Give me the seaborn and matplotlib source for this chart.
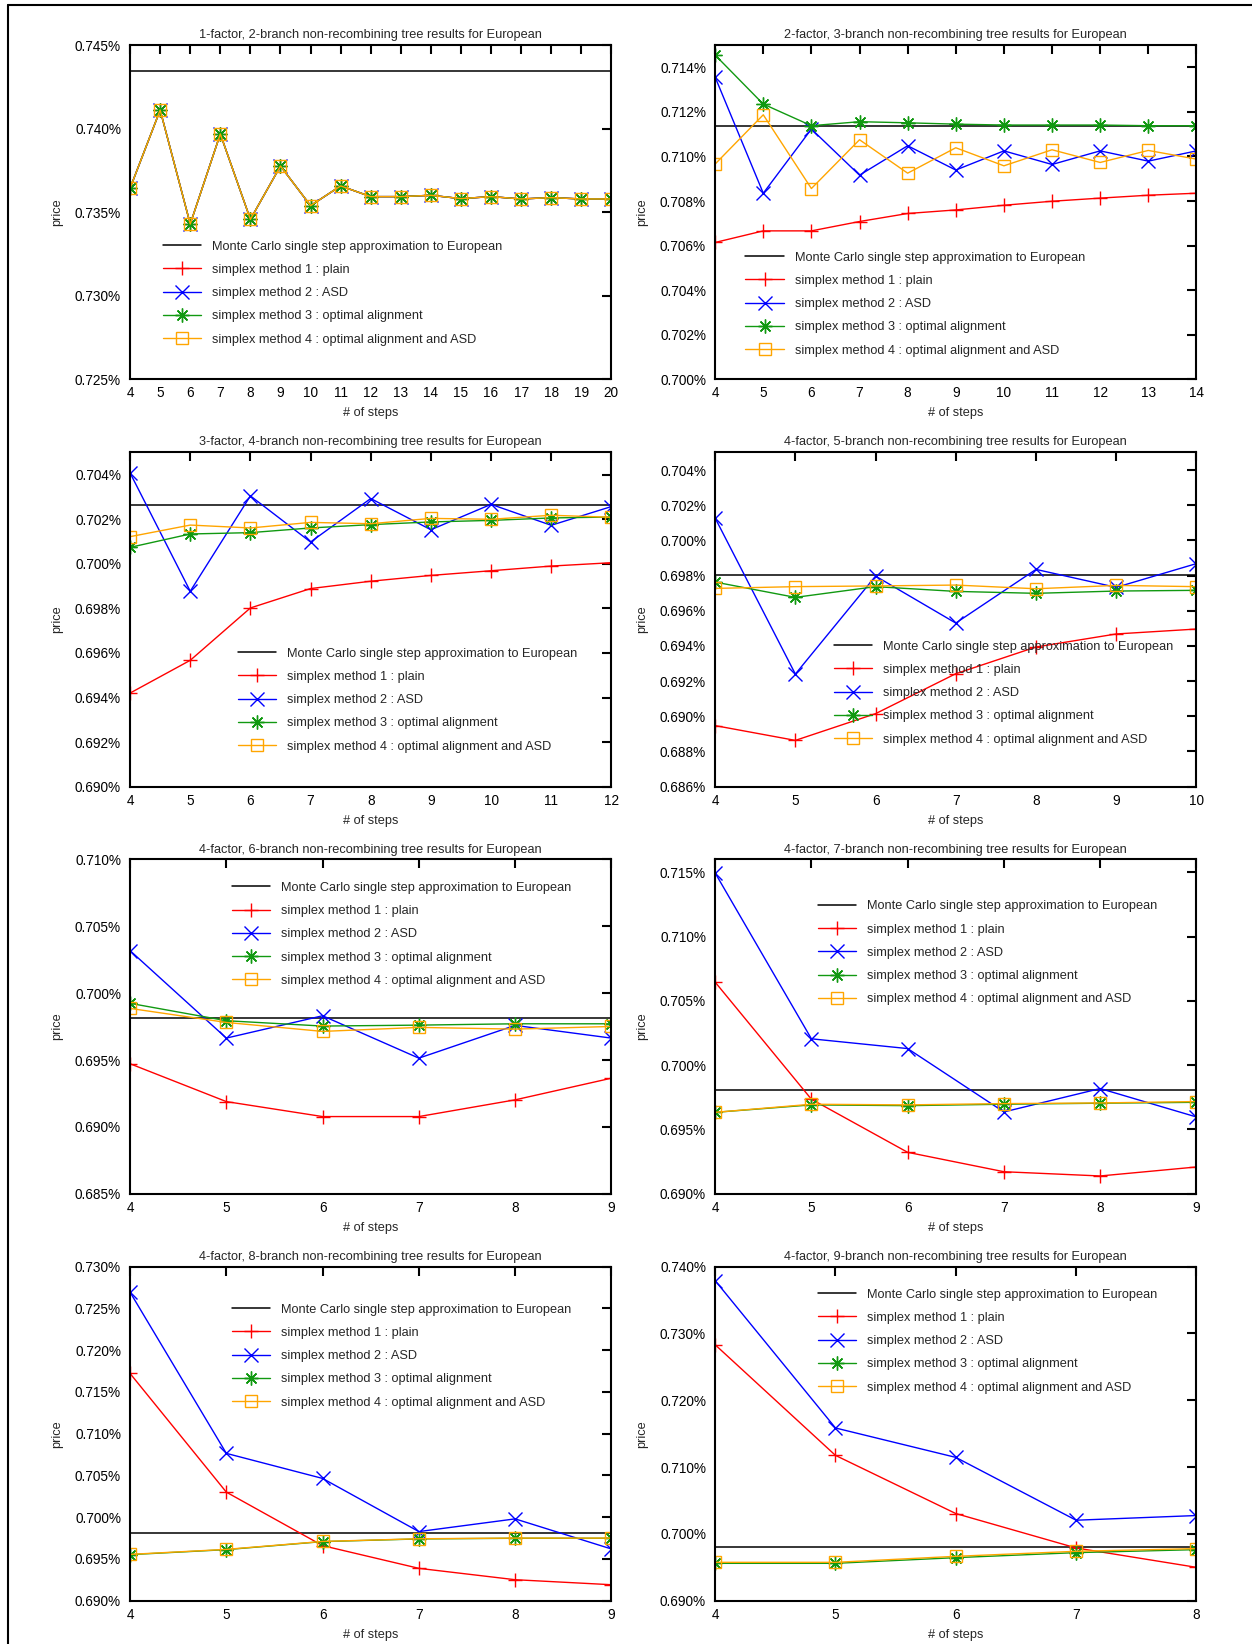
import matplotlib
matplotlib.use("Agg")
import matplotlib.pyplot as plt
from matplotlib.lines import Line2D
import seaborn as sns

# values (price in %)

# 1-factor, 2-branch: all four simplex methods give the same numbers
steps_1 = [4, 5, 6, 7, 8, 9, 10, 11, 12, 13, 14, 15, 16, 17, 18, 19, 20]
mc_1 = 0.74346
opt_1 = [0.73643, 0.74111, 0.73429, 0.73968, 0.73457, 0.73776, 0.73539, 0.73657,
         0.73593, 0.73593, 0.73601, 0.73581, 0.73593, 0.73579, 0.73587, 0.73579, 0.73579]
plain_1 = list(opt_1)
asd_1 = list(opt_1)
optasd_1 = list(opt_1)
yticks_1 = [0.725, 0.730, 0.735, 0.740, 0.745]
ylim_1 = (0.725, 0.745)

# 2-factor, 3-branch
steps_2 = [4, 5, 6, 7, 8, 9, 10, 11, 12, 13, 14]
mc_2 = 0.71138
plain_2 = [0.70614, 0.70666, 0.70666, 0.70708, 0.70744, 0.70760, 0.70781, 0.70799, 0.70813, 0.70826, 0.70835]
asd_2 = [0.71356, 0.70835, 0.71123, 0.70916, 0.71048, 0.70939, 0.71025, 0.70964, 0.71025, 0.70979, 0.71025]
opt_2 = [0.71455, 0.71235, 0.71138, 0.71156, 0.71151, 0.71145, 0.71141, 0.71141, 0.71141, 0.71138, 0.71138]
optasd_2 = [0.70966, 0.71187, 0.70856, 0.71075, 0.70925, 0.71039, 0.70958, 0.71030, 0.70973, 0.71027, 0.70988]
yticks_2 = [0.700, 0.702, 0.704, 0.706, 0.708, 0.710, 0.712, 0.714]
ylim_2 = (0.700, 0.715)

# 3-factor, 4-branch
steps_3 = [4, 5, 6, 7, 8, 9, 10, 11, 12]
mc_3 = 0.70264
plain_3 = [0.69420, 0.69567, 0.69802, 0.69889, 0.69922, 0.69948, 0.69969, 0.69990, 0.70005]
asd_3 = [0.70408, 0.69877, 0.70305, 0.70098, 0.70293, 0.70153, 0.70267, 0.70173, 0.70257]
opt_3 = [0.70074, 0.70134, 0.70140, 0.70161, 0.70176, 0.70188, 0.70195, 0.70206, 0.70210]
optasd_3 = [0.70122, 0.70174, 0.70161, 0.70186, 0.70180, 0.70204, 0.70200, 0.70218, 0.70209]
yticks_3 = [0.690, 0.692, 0.694, 0.696, 0.698, 0.700, 0.702, 0.704]
ylim_3 = (0.690, 0.705)

# 4-factor, 5-branch
steps_4 = [4, 5, 6, 7, 8, 9, 10]
mc_4 = 0.69801
plain_4 = [0.68947, 0.68863, 0.69015, 0.69242, 0.69394, 0.69468, 0.69496]
asd_4 = [0.70127, 0.69240, 0.69797, 0.69530, 0.69835, 0.69733, 0.69868]
opt_4 = [0.69763, 0.69676, 0.69737, 0.69710, 0.69699, 0.69712, 0.69716]
optasd_4 = [0.69727, 0.69737, 0.69741, 0.69746, 0.69725, 0.69744, 0.69737]
yticks_4 = [0.686, 0.688, 0.690, 0.692, 0.694, 0.696, 0.698, 0.700, 0.702, 0.704]
ylim_4 = (0.686, 0.705)

# 4-factor, 6-branch
steps_5 = [4, 5, 6, 7, 8, 9]
mc_5 = 0.69814
plain_5 = [0.69472, 0.69189, 0.69077, 0.69077, 0.69202, 0.69364]
asd_5 = [0.70318, 0.69664, 0.69831, 0.69514, 0.69759, 0.69664]
opt_5 = [0.69924, 0.69794, 0.69754, 0.69761, 0.69771, 0.69771]
optasd_5 = [0.69886, 0.69781, 0.69714, 0.69744, 0.69731, 0.69751]
yticks_5 = [0.685, 0.690, 0.695, 0.700, 0.705, 0.710]
ylim_5 = (0.685, 0.710)

# 4-factor, 7-branch
steps_6 = [4, 5, 6, 7, 8, 9]
mc_6 = 0.69810
plain_6 = [0.70646, 0.69735, 0.69322, 0.69171, 0.69138, 0.69208]
asd_6 = [0.71495, 0.70205, 0.70129, 0.69636, 0.69818, 0.69597]
opt_6 = [0.69633, 0.69691, 0.69685, 0.69696, 0.69704, 0.69711]
optasd_6 = [0.69633, 0.69696, 0.69691, 0.69701, 0.69706, 0.69717]
yticks_6 = [0.690, 0.695, 0.700, 0.705, 0.710, 0.715]
ylim_6 = (0.690, 0.716)

# 4-factor, 8-branch
steps_7 = [4, 5, 6, 7, 8, 9]
mc_7 = 0.69812
plain_7 = [0.71720, 0.70300, 0.69660, 0.69388, 0.69252, 0.69192]
asd_7 = [0.72692, 0.70764, 0.70464, 0.69828, 0.69980, 0.69620]
opt_7 = [0.69552, 0.69612, 0.69708, 0.69740, 0.69748, 0.69748]
optasd_7 = [0.69555, 0.69615, 0.69710, 0.69742, 0.69750, 0.69750]
yticks_7 = [0.690, 0.695, 0.700, 0.705, 0.710, 0.715, 0.720, 0.725, 0.730]
ylim_7 = (0.690, 0.730)

# 4-factor, 9-branch
steps_8 = [4, 5, 6, 7, 8]
mc_8 = 0.69810
plain_8 = [0.72830, 0.71175, 0.70305, 0.69790, 0.69500]
asd_8 = [0.73790, 0.71585, 0.71145, 0.70205, 0.70275]
opt_8 = [0.69560, 0.69560, 0.69645, 0.69720, 0.69765]
optasd_8 = [0.69575, 0.69575, 0.69665, 0.69740, 0.69780]
yticks_8 = [0.690, 0.700, 0.710, 0.720, 0.730, 0.740]
ylim_8 = (0.690, 0.740)

titles = ["1-factor, 2-branch non-recombining tree results for European",
          "2-factor, 3-branch non-recombining tree results for European",
          "3-factor, 4-branch non-recombining tree results for European",
          "4-factor, 5-branch non-recombining tree results for European",
          "4-factor, 6-branch non-recombining tree results for European",
          "4-factor, 7-branch non-recombining tree results for European",
          "4-factor, 8-branch non-recombining tree results for European",
          "4-factor, 9-branch non-recombining tree results for European"]

mc_label = "Monte Carlo single step approximation to European"
method_labels = ["simplex method 1 : plain", "simplex method 2 : ASD",
                 "simplex method 3 : optimal alignment",
                 "simplex method 4 : optimal alignment and ASD"]

panels = [
    (steps_1, mc_1, [plain_1, asd_1, opt_1, optasd_1], yticks_1, ylim_1),
    (steps_2, mc_2, [plain_2, asd_2, opt_2, optasd_2], yticks_2, ylim_2),
    (steps_3, mc_3, [plain_3, asd_3, opt_3, optasd_3], yticks_3, ylim_3),
    (steps_4, mc_4, [plain_4, asd_4, opt_4, optasd_4], yticks_4, ylim_4),
    (steps_5, mc_5, [plain_5, asd_5, opt_5, optasd_5], yticks_5, ylim_5),
    (steps_6, mc_6, [plain_6, asd_6, opt_6, optasd_6], yticks_6, ylim_6),
    (steps_7, mc_7, [plain_7, asd_7, opt_7, optasd_7], yticks_7, ylim_7),
    (steps_8, mc_8, [plain_8, asd_8, opt_8, optasd_8], yticks_8, ylim_8),
]

# style / layout
colors = ["#ff0000", "#0000ff", "#119911", "#ffa500"]
markers = ["+", "x", (8, 2, 0), "s"]
msizes = [10, 10, 10, 9]

# axes boxes (fig fraction): left, bottom, width, height
col_left = [0.1039, 0.5712]
row_bottom = [0.7693, 0.5215, 0.2739, 0.0263]
ax_w, ax_h = 0.3844, 0.2033

# legend top-left anchor per panel (axes fraction)
legend_anchor = [(0.0675, 0.415), (0.063, 0.382), (0.224, 0.416), (0.246, 0.437),
                 (0.211, 0.933), (0.2135, 0.878), (0.211, 0.889), (0.2135, 0.934)]

sns.set_theme(style="white")
plt.rcParams['font.family'] = ['Liberation Sans', 'DejaVu Sans']
plt.rcParams['axes.linewidth'] = 1.5

fig = plt.figure(figsize=(12.52, 16.44), dpi=100)
fig.patch.set_facecolor("white")

for i, (steps, mc, series, yticks, ylim) in enumerate(panels):
    r, c = divmod(i, 2)
    ax = fig.add_axes([col_left[c], row_bottom[r], ax_w, ax_h])

    ax.axhline(mc, color="black", lw=1.1, label=mc_label, zorder=2)
    for vals, col, mk, ms, lab in zip(series, colors, markers, msizes, method_labels):
        sns.lineplot(x=steps, y=vals, ax=ax, color=col, lw=1.0, marker=mk,
                     markersize=ms, markeredgecolor=col, markeredgewidth=1.0,
                     markerfacecolor="none" if mk == "s" else col, label=lab)

    ax.set_xlim(steps[0], steps[-1])
    ax.set_xticks(steps)
    ax.set_ylim(*ylim)
    ax.set_yticks(yticks)
    ax.set_yticklabels([f"{v:.3f}%" for v in yticks])

    ax.tick_params(direction="in", length=6.5, width=1.5, top=True, right=True,
                   labelsize=9.8, pad=5, colors="black")
    ax.tick_params(axis="y", pad=6.5)
    for sp in ax.spines.values():
        sp.set_color("black")
        sp.set_linewidth(1.5)

    ax.set_title(titles[i], fontsize=9.2, pad=5)
    ax.set_xlabel("# of steps", fontsize=9.2, labelpad=5)
    ax.set_ylabel("price", fontsize=9.2)
    ax.yaxis.set_label_coords(-0.14, 0.5)

    ax.legend(loc="upper left", bbox_to_anchor=legend_anchor[i], frameon=False,
              fontsize=9.2, handlelength=3.0, handletextpad=0.85, labelspacing=0.88,
              borderpad=0, borderaxespad=0)

# thin page frame on top and left, as in the source
fig.add_artist(Line2D([0.0065, 1.0], [0.997, 0.997], color="black", lw=1.5,
                      transform=fig.transFigure))
fig.add_artist(Line2D([0.0065, 0.0065], [0.0, 0.997], color="black", lw=1.5,
                      transform=fig.transFigure))

fig.savefig("out.png", dpi=100, facecolor="white")
